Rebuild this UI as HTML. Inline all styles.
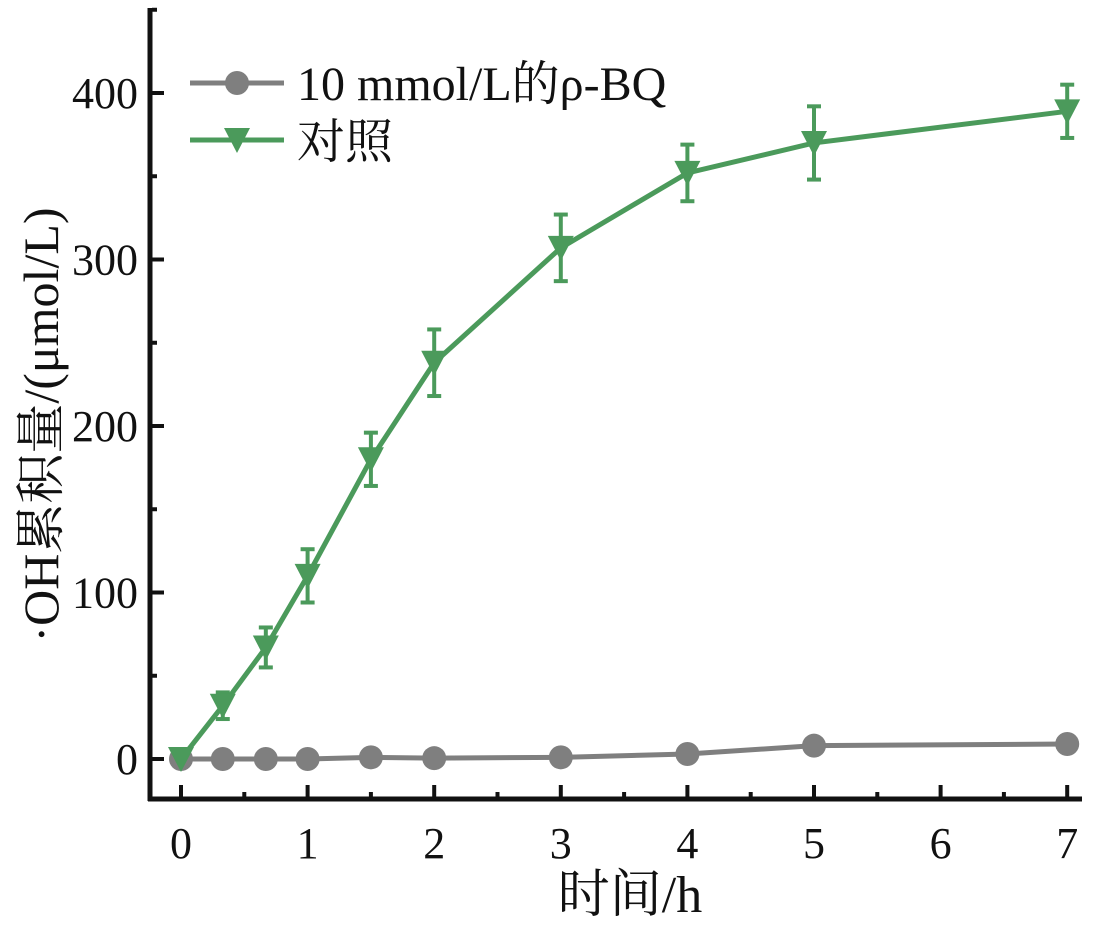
<!DOCTYPE html>
<html><head><meta charset="utf-8"><style>
body{margin:0;background:#fff;}
svg text{font-family:"Liberation Serif","Noto Serif CJK SC",serif;fill:#111;}
</style></head><body>
<svg id="chart" width="1094" height="924" viewBox="0 0 1094 924"></svg>
<script>
const xTicks=[0,1,2,3,4,5,6,7];
const yTicks=[0,100,200,300,400];
const timesCtrl=[0,0.33,0.67,1,1.5,2,3,4,5,7];
const ctrlValues=[0,32,67,110,180,238,307,352,370,389];
const ctrlErrors=[0,8,12,16,16,20,20,17,22,16];
const timesBQ=[0,0.33,0.67,1,1.5,2,3,4,5,7];
const bqValues=[0,0,0,0,1,0.5,1,3,8,9];
const NS='http://www.w3.org/2000/svg';
const svg=document.getElementById('chart');
function X(v){return 181+v*126.6;}
function Y(v){return 759-v*1.665;}
function el(tag,attrs,parent){const e=document.createElementNS(NS,tag);for(const k in attrs)e.setAttribute(k,attrs[k]);(parent||svg).appendChild(e);return e;}
const axes=el('g',{});


const ya=el('line',{x1:150,y1:8,x2:150,y2:801,stroke:'#111','stroke-width':5},axes);


const xa=el('line',{x1:148,y1:799,x2:1082,y2:799,stroke:'#111','stroke-width':5},axes);


xTicks.forEach(t=>{
  el('line',{x1:X(t),y1:797,x2:X(t),y2:785,stroke:'#111','stroke-width':4},axes);
  if(t<7) el('line',{x1:X(t+0.5),y1:797,x2:X(t+0.5),y2:792,stroke:'#111','stroke-width':4},axes);
  const tx=el('text',{x:X(t),y:858,'font-size':44,'text-anchor':'middle'},axes);
  tx.textContent=t;
  
  
});
yTicks.forEach(t=>{
  el('line',{x1:152,y1:Y(t),x2:164,y2:Y(t),stroke:'#111','stroke-width':4},axes);
  el('line',{x1:152,y1:Y(t+50),x2:157,y2:Y(t+50),stroke:'#111','stroke-width':4},axes);
  const tx=el('text',{x:138,y:Y(t)+15,'font-size':44,'text-anchor':'end'},axes);
  tx.textContent=t;
  
  
});
const xt=el('text',{x:630,y:912,'font-size':52,'text-anchor':'middle'});
xt.textContent='时间/h';


const yt=el('text',{x:0,y:0,'font-size':50,'text-anchor':'middle',transform:'translate(58,425) rotate(-90)'});
yt.textContent='·OH累积量/(μmol/L)';


const G='#7f7f7f',C='#4b9a5b';
const gs=el('g',{});


el('polyline',{points:timesBQ.map((t,i)=>X(t)+','+Y(bqValues[i])).join(' '),fill:'none',stroke:G,'stroke-width':5},gs);
timesBQ.forEach((t,i)=>{const c=el('circle',{cx:X(t),cy:Y(bqValues[i]),r:12,fill:G},gs);

});
const cs=el('g',{});


el('polyline',{points:timesCtrl.map((t,i)=>X(t)+','+Y(ctrlValues[i])).join(' '),fill:'none',stroke:C,'stroke-width':5},cs);
timesCtrl.forEach((t,i)=>{
  const x=X(t),y=Y(ctrlValues[i]),e=ctrlErrors[i];
  if(e>0){
    el('line',{x1:x,y1:Y(ctrlValues[i]+e),x2:x,y2:Y(ctrlValues[i]-e),stroke:C,'stroke-width':4},cs);
    el('line',{x1:x-7,y1:Y(ctrlValues[i]+e),x2:x+7,y2:Y(ctrlValues[i]+e),stroke:C,'stroke-width':4},cs);
    el('line',{x1:x-7,y1:Y(ctrlValues[i]-e),x2:x+7,y2:Y(ctrlValues[i]-e),stroke:C,'stroke-width':4},cs);
  }
  const p=el('polygon',{points:`${x-13},${y-12} ${x+13},${y-12} ${x},${y+13}`,fill:C},cs);
  
  
});
const lg=el('g',{});


el('line',{x1:190,y1:83,x2:284,y2:83,stroke:G,'stroke-width':5},lg);
el('circle',{cx:237,cy:83,r:12,fill:G},lg);
const l1=el('text',{x:297,y:100,'font-size':48},lg);l1.textContent='10 mmol/L的ρ-BQ';


el('line',{x1:190,y1:140,x2:284,y2:140,stroke:C,'stroke-width':5},lg);
el('polygon',{points:'224,128 250,128 237,153',fill:C},lg);
const l2=el('text',{x:297,y:158,'font-size':48},lg);l2.textContent='对照';


</script>
</body></html>
